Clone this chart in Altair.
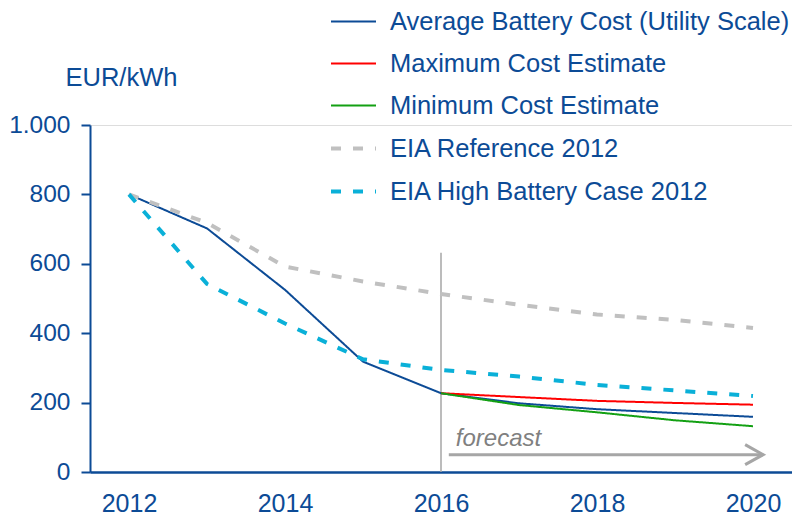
import altair as alt
import pandas as pd

# ---- data ----
years = [2012, 2013, 2014, 2015, 2016, 2017, 2018, 2019, 2020]
avg_cost = [800, 702, 525, 318, 227, 198, 181, 170, 159]
max_cost = [None, None, None, None, 227, 216, 205, 199, 194]
min_cost = [None, None, None, None, 227, 193, 172, 149, 132]
eia_ref = [800, 718, 592, 549, 513, 482, 454, 438, 415]
eia_high = [800, 542, 428, 325, 294, 275, 251, 235, 219]

series_names = [
    "Average Battery Cost (Utility Scale)",
    "Maximum Cost Estimate",
    "Minimum Cost Estimate",
    "EIA Reference 2012",
    "EIA High Battery Case 2012",
]
series_values = [avg_cost, max_cost, min_cost, eia_ref, eia_high]
series_colors = ["#0c4b96", "#ff0000", "#13a013", "#c0c0c0", "#0ab0d8"]
series_dash = [[1, 0], [1, 0], [1, 0], [10, 12], [10, 12]]
series_width = [2, 2, 2, 4, 4]

y_ticks = [0, 200, 400, 600, 800, 1000]
x_ticks = [2012, 2014, 2016, 2018, 2020]

forecast_year = [2016]
forecast_line_top = [632]
arrow_x = [2016.1]
arrow_x2 = [2020.13]
arrow_y = [50]
forecast_label = ["forecast"]
forecast_label_x = [2016.19]
forecast_label_y = [96]

BLUE = "#0c4b96"
GRAY = "#a6a6a6"
FONT = "Liberation Sans"

rows = []
for name, vals in zip(series_names, series_values):
    for yr, v in zip(years, vals):
        if v is not None:
            rows.append({"year": yr, "value": v, "series": name})
df = pd.DataFrame(rows)

x_scale = alt.Scale(domain=[2011.5, 2020.5], nice=False, zero=False)
y_scale = alt.Scale(domain=[0, 1000], nice=False)


def make_legend():
    return alt.Legend(orient="none", legendX=239, legendY=-127, title=None,
                      symbolType="stroke", symbolSize=2025,
                      labelFontSize=25.5, labelFont=FONT, labelColor=BLUE,
                      labelOffset=12, rowPadding=5, labelLimit=700)


lines = alt.Chart(df).mark_line(strokeCap="butt").encode(
    x=alt.X("year:Q", scale=x_scale, axis=alt.Axis(
        values=x_ticks, format="d", ticks=False, grid=False, title=None,
        domainColor=BLUE, domainWidth=2.5, labelFontSize=25, labelColor=BLUE,
        labelFont=FONT, labelPadding=19, labelFlush=False)),
    y=alt.Y("value:Q", scale=y_scale, axis=alt.Axis(
        values=y_ticks, labelExpr="replace(format(datum.value, ','), ',', '.')",
        grid=False, domainColor=BLUE, domainWidth=2, tickColor=BLUE, tickWidth=2,
        tickSize=9, labelFontSize=24.5, labelColor=BLUE, labelFont=FONT,
        labelPadding=11, title="EUR/kWh", titleAngle=0, titleX=-25, titleY=-48,
        titleAlign="left", titleBaseline="middle", titleFontSize=25.5,
        titleFontWeight="normal", titleColor=BLUE, titleFont=FONT)),
    color=alt.Color("series:N", scale=alt.Scale(domain=series_names, range=series_colors),
                    legend=make_legend()),
    strokeDash=alt.StrokeDash("series:N", scale=alt.Scale(domain=series_names, range=series_dash),
                              legend=make_legend()),
    strokeWidth=alt.StrokeWidth("series:N",
                                scale=alt.Scale(type="ordinal", domain=series_names, range=series_width),
                                legend=make_legend()),
)

vdf = pd.DataFrame({"year": forecast_year, "y0": [0], "y1": forecast_line_top})
vline = alt.Chart(vdf).mark_rule(color=GRAY, strokeWidth=1.5).encode(
    x=alt.X("year:Q", scale=x_scale), y=alt.Y("y0:Q", scale=y_scale), y2="y1:Q")

adf = pd.DataFrame({"x": arrow_x, "x2": arrow_x2, "y": arrow_y})
arrow = alt.Chart(adf).mark_rule(color=GRAY, strokeWidth=3).encode(
    x=alt.X("x:Q", scale=x_scale), x2="x2:Q", y=alt.Y("y:Q", scale=y_scale))
head = alt.Chart(adf).mark_point(
    shape="M -1.8 -1 L 0 0 L -1.8 1", size=400, filled=False, color=GRAY,
    strokeWidth=3, opacity=1).encode(
    x=alt.X("x2:Q", scale=x_scale), y=alt.Y("y:Q", scale=y_scale))

tdf = pd.DataFrame({"x": forecast_label_x, "y": forecast_label_y, "t": forecast_label})
label = alt.Chart(tdf).mark_text(
    align="left", baseline="middle", fontSize=24, fontStyle="italic",
    font=FONT, color="#808080").encode(
    x=alt.X("x:Q", scale=x_scale), y=alt.Y("y:Q", scale=y_scale), text="t:N")

chart = alt.layer(vline, lines, arrow, head, label).properties(
    width=702, height=347,
    autosize=alt.AutoSizeParams(type="none"),
    padding={"left": 82, "top": 117, "right": 0, "bottom": 43},
).configure_view(stroke=None).configure(font=FONT)

chart.save("out.html", embed_options={"renderer": "svg", "actions": False})
